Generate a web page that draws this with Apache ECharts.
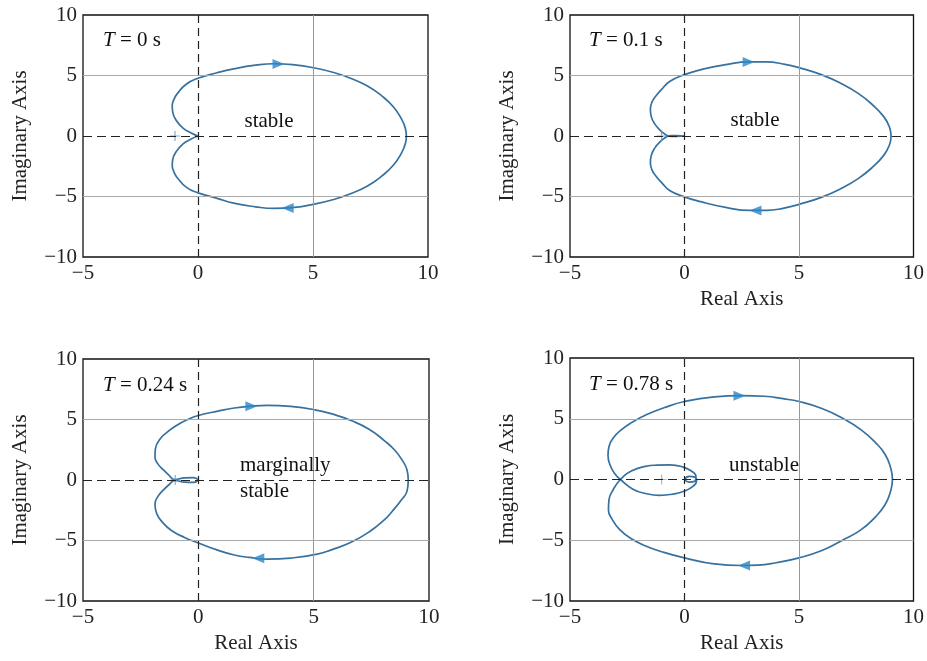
<!DOCTYPE html>
<html>
<head>
<meta charset="utf-8">
<script src="https://cdn.jsdelivr.net/npm/echarts@6/dist/echarts.min.js"></script>
<style>
html,body{margin:0;padding:0;background:#fff;}
#chart{width:927px;height:661px;}
</style>
</head>
<body>
<div id="chart"></div>
<script>
// ---------- data ----------
const xTicks = [-5, 0, 5, 10];
const yTicks = [-10, -5, 0, 5, 10];
const gridLinesX = [5];
const gridLinesY = [-5, 5];
const zeroLine = [0];
const delays = ['0', '0.1', '0.24', '0.78'];
const verdicts = ['stable', 'stable', 'marginally\nstable', 'unstable'];
const criticalPoint = [-1, 0];

// T = 0 s  (path: origin -> upper half -> (9,0) -> lower half -> origin)
const t0Re = [0, -0.3, -0.65, -0.95, -1.1, -1.12, -1.05, -0.9, -0.5, 0, 0.83, 1.55, 2.5, 3.3, 4.2, 5, 5.9, 6.6, 7.35, 8.0, 8.5, 8.85, 9.02, 9.06,
              9.02, 8.85, 8.5, 8.0, 7.35, 6.6, 5.9, 5, 4.2, 3.3, 2.5, 1.55, 0.83, 0, -0.5, -0.9, -1.05, -1.12, -1.1, -0.95, -0.65, -0.3, 0];
const t0Im = [0, 0.25, 0.65, 1.3, 2.0, 2.5, 3.0, 3.5, 4.3, 4.77, 5.23, 5.55, 5.85, 5.97, 5.88, 5.65, 5.25, 4.8, 4.15, 3.3, 2.4, 1.4, 0.6, 0,
              -0.6, -1.4, -2.4, -3.3, -4.15, -4.8, -5.25, -5.65, -5.9, -5.98, -5.85, -5.55, -5.15, -4.7, -4.25, -3.45, -2.95, -2.45, -1.95, -1.3, -0.65, -0.25, 0];
// T = 0.1 s
const t1Re = [0, -0.35, -0.72, -0.85, -1.05, -1.3, -1.45, -1.49, -1.42, -1.25, -1.0, -0.65, 0, 0.65, 1.8, 2.85, 3.6, 4.3, 5, 6, 6.88, 7.6, 8.2, 8.7, 8.95, 9.02,
              8.95, 8.7, 8.2, 7.6, 6.88, 6, 5, 4.3, 3.6, 2.85, 1.8, 0.65, 0, -0.65, -1.0, -1.25, -1.42, -1.49, -1.45, -1.3, -1.05, -0.85, -0.72, -0.35, 0];
const t1Im = [0, 0.04, 0.02, 0.15, 0.45, 1.0, 1.6, 2.2, 2.8, 3.3, 3.85, 4.5, 5.07, 5.45, 5.9, 6.12, 6.12, 5.95, 5.65, 5.05, 4.3, 3.5, 2.6, 1.6, 0.75, 0,
              -0.75, -1.6, -2.6, -3.5, -4.3, -5.05, -5.65, -5.98, -6.15, -6.15, -5.9, -5.4, -5.03, -4.5, -3.85, -3.3, -2.8, -2.2, -1.6, -1.0, -0.45, -0.15, -0.02, -0.04, 0];
// T = 0.24 s
const t2Re = [0, -0.2, -0.6, -1.02, -1.3, -1.55, -1.76, -1.88, -1.86, -1.65, -1.35, -1.0, -0.46, 0, 0.84, 1.56, 2.3, 3.0, 4.0, 5.06, 5.9, 6.62, 7.4, 8.06, 8.5, 8.85, 9.05, 9.1,
              9.05, 8.8, 8.4, 8.06, 7.4, 6.62, 5.8, 5.1, 4.0, 3.0, 2.2, 1.56, 0.84, 0, -0.6, -1.18, -1.55, -1.8, -1.88, -1.75, -1.5, -1.25, -1.02, -0.6, -0.2, 0];
const t2Im = [0, 0.2, 0.18, 0.03, 0.45, 0.9, 1.35, 1.9, 2.6, 3.4, 3.95, 4.45, 5.0, 5.33, 5.69, 5.95, 6.1, 6.16, 6.08, 5.8, 5.4, 4.92, 4.2, 3.26, 2.5, 1.6, 0.8, 0,
              -0.9, -1.65, -2.6, -3.3, -4.3, -5.15, -5.75, -6.15, -6.45, -6.54, -6.4, -6.2, -5.8, -5.2, -4.75, -4.15, -3.5, -2.8, -2.0, -1.35, -0.8, -0.35, -0.03, -0.18, -0.2, 0];
// T = 0.78 s
const t3Re = [0, 0.2, 0.45, 0.53, 0.38, 0, -0.5, -1.1, -1.7, -2.25, -2.8, -3.05, -3.25, -3.34, -3.3, -3.12, -2.75, -2.3, -1.67, -0.9, 0, 1.3, 2.5, 3.5, 4.3, 5, 6.0, 6.9, 7.7, 8.36, 8.75, 8.98, 9.08,
              8.98, 8.75, 8.36, 7.7, 6.9, 6.0, 5, 4.0, 3.2, 2.5, 1.3, 0, -0.9, -1.67, -2.3, -2.83, -3.15, -3.32, -3.3, -3.15, -2.8, -2.3, -1.7, -1.2, -0.65, -0.1, 0.3, 0.5, 0.45, 0.2, 0];
const t3Im = [0, 0.25, 0.2, -0.1, -0.55, -0.95, -1.2, -1.3, -1.15, -0.8, 0, 0.5, 1.2, 2.0, 2.7, 3.4, 4.1, 4.7, 5.33, 5.9, 6.42, 6.8, 6.9, 6.85, 6.65, 6.42, 5.85, 5.05, 4.1, 3.0, 2.1, 1.1, 0,
              -1.1, -2.1, -3.03, -4.15, -5.0, -5.85, -6.45, -6.85, -7.05, -7.08, -6.95, -6.45, -6.0, -5.49, -4.9, -4.12, -3.3, -2.5, -1.7, -0.95, 0, 0.72, 1.08, 1.18, 1.2, 1.05, 0.7, 0.25, -0.15, -0.22, 0];

// direction arrows: [re, im] on the curve
const arrowsRight = [[3.5, 5.96], [2.8, 6.12], [2.3, 6.1], [2.4, 6.89]];
const arrowsLeft  = [[3.9, -5.96], [3.1, -6.15], [2.6, -6.46], [2.6, -7.08]];

const curvesRe = [t0Re, t1Re, t2Re, t3Re];
const curvesIm = [t0Im, t1Im, t2Im, t3Im];

// ---------- layout / style ----------
const FONT = '"Liberation Serif", "DejaVu Serif", "Times New Roman", serif';
const FS = 21;
const grids = [
  {left: 83, top: 15, width: 345, height: 242},
  {left: 570, top: 15, width: 344, height: 242},
  {left: 83, top: 359, width: 346, height: 242},
  {left: 570, top: 358, width: 344, height: 243}
];
const showRealName = [false, true, true, true];
const textPos = [
  {tx: 103, ty: 42, vx: 269, vy: 121, align: 'center'},
  {tx: 589, ty: 42, vx: 755, vy: 120, align: 'center'},
  {tx: 103, ty: 387, vx: 240, vy: 478, align: 'left'},
  {tx: 589, ty: 386, vx: 729, vy: 465, align: 'left'}
];
const curveColor = '#36719f';
const arrowColor = '#2c87c8';
const fmt = v => String(v).replace('-', '\u2212');

const option = {
  backgroundColor: '#fff',
  animation: false,
  grid: grids.map(g => Object.assign({show: true, borderColor: '#111', borderWidth: 1.3, backgroundColor: 'transparent'}, g)),
  xAxis: grids.map((g, i) => ({
    type: 'value', gridIndex: i,
    min: xTicks[0], max: xTicks[xTicks.length - 1], interval: xTicks[1] - xTicks[0],
    axisLine: {show: false}, axisTick: {show: false}, splitLine: {show: false},
    axisLabel: {formatter: fmt, fontFamily: FONT, fontSize: FS, color: '#222', margin: 6},
    name: showRealName[i] ? 'Real Axis' : '', nameLocation: 'middle', nameGap: 32,
    nameTextStyle: {fontFamily: FONT, fontSize: FS, color: '#222'}
  })),
  yAxis: grids.map((g, i) => ({
    type: 'value', gridIndex: i,
    min: yTicks[0], max: yTicks[yTicks.length - 1], interval: yTicks[1] - yTicks[0],
    axisLine: {show: false}, axisTick: {show: false}, splitLine: {show: false},
    axisLabel: {formatter: fmt, fontFamily: FONT, fontSize: FS, color: '#222', margin: 6},
    name: 'Imaginary Axis', nameLocation: 'middle', nameGap: 52, nameRotate: 90,
    nameTextStyle: {fontFamily: FONT, fontSize: FS, color: '#222'}
  })),
  series: [],
  graphic: []
};

for (let i = 0; i < 4; i++) {
  // grid lines
  const ml = [];
  gridLinesX.forEach(v => ml.push({xAxis: v, lineStyle: {color: '#999', width: 1, type: 'solid'}}));
  gridLinesY.forEach(v => ml.push({yAxis: v, lineStyle: {color: '#aaa', width: 1, type: 'solid'}}));
  zeroLine.forEach(v => {
    ml.push({xAxis: v, lineStyle: {color: '#222', width: 1.2, type: [8, 5]}});
    ml.push({yAxis: v, lineStyle: {color: '#222', width: 1.2, type: [9, 5]}});
  });
  option.series.push({
    type: 'line', xAxisIndex: i, yAxisIndex: i, data: [], z: 1, silent: true,
    markLine: {silent: true, symbol: ['none', 'none'], label: {show: false}, data: ml, animation: false}
  });
  // Nyquist curve
  option.series.push({
    type: 'line', xAxisIndex: i, yAxisIndex: i, z: 3,
    data: curvesRe[i].map((r, k) => [r, curvesIm[i][k]]),
    showSymbol: false, smooth: 0.5,
    lineStyle: {color: curveColor, width: 1.7}
  });
  // arrows
  option.series.push({
    type: 'scatter', xAxisIndex: i, yAxisIndex: i, z: 4,
    symbol: 'triangle', symbolSize: [10, 12],
    itemStyle: {color: arrowColor},
    data: [
      {value: arrowsRight[i], symbolRotate: -90},
      {value: arrowsLeft[i], symbolRotate: 90}
    ]
  });
  // critical point
  option.series.push({
    type: 'scatter', xAxisIndex: i, yAxisIndex: i, z: 4,
    symbol: 'path://M0,4.4H10V5.6H0Z M4.4,0H5.6V10H4.4Z', symbolSize: 10,
    itemStyle: {color: i === 3 ? '#9aa' : '#5a9ad0'},
    data: [criticalPoint]
  });
  // texts
  const p = textPos[i];
  option.graphic.push({
    type: 'text', left: p.tx, top: p.ty - 12, z: 10,
    style: {
      text: '{i|T} = ' + delays[i] + ' s',
      fontFamily: FONT, fontSize: FS, fill: '#111',
      rich: {i: {fontStyle: 'italic', fontFamily: FONT, fontSize: FS, fill: '#111'}}
    }
  });
  option.graphic.push({
    type: 'text', x: p.vx, y: p.vy, z: 10,
    style: {
      text: verdicts[i], fontFamily: FONT, fontSize: FS, fill: '#111',
      align: p.align, verticalAlign: 'middle', lineHeight: 26
    }
  });
}

const chart = echarts.init(document.getElementById('chart'), null, {renderer: 'canvas'});
chart.setOption(option);
</script>
</body>
</html>
